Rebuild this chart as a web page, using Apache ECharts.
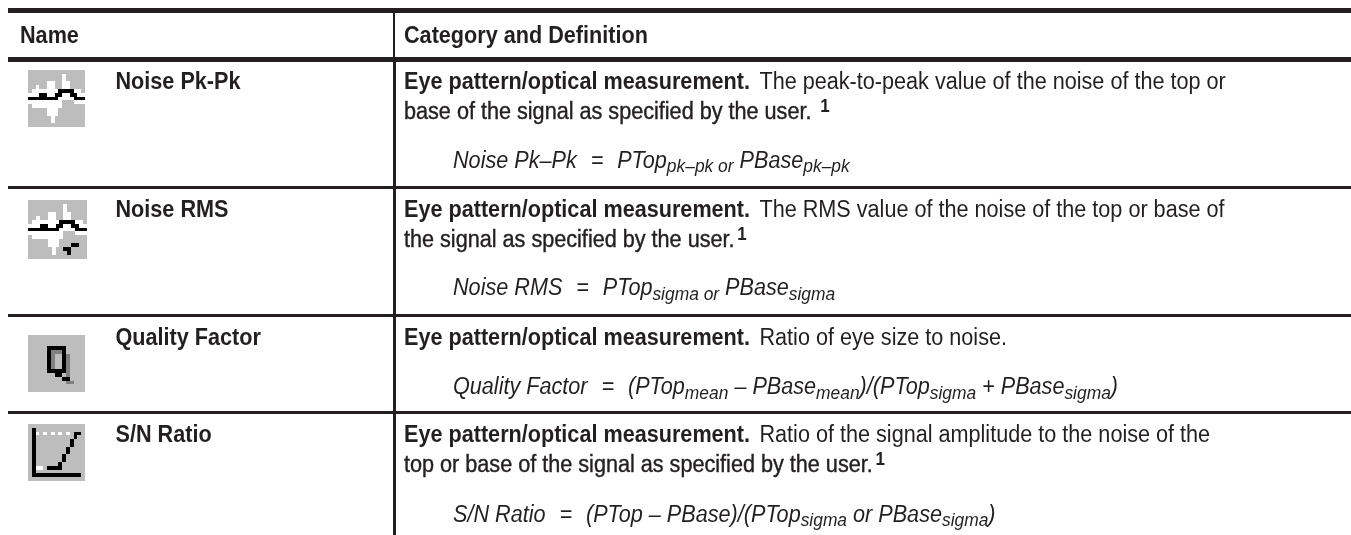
<!DOCTYPE html>
<html>
<head>
<meta charset="utf-8">
<title>Eye pattern measurements</title>
<script src="https://cdn.jsdelivr.net/npm/echarts@6/dist/echarts.min.js"></script>
<style>
  html, body { margin: 0; padding: 0; background: #fff; }
  #chart { width: 1351px; height: 535px; }
</style>
</head>
<body>
<div id="chart"></div>
<script>
// table content
const headers = ['Name', 'Category and Definition']
const measurementNames = ['Noise Pk-Pk', 'Noise RMS', 'Quality Factor', 'S/N Ratio']
const definitions = [
  '{b|Eye pattern/optical measurement.}The peak-to-peak value of the noise of the top or\n{m|base of the signal as specified by the user.} {sup|1}',
  '{b|Eye pattern/optical measurement.}The RMS value of the noise of the top or base of\n{m|the signal as specified by the user.}{sup|1}',
  '{b|Eye pattern/optical measurement.}Ratio of eye size to noise.',
  '{b|Eye pattern/optical measurement.}Ratio of the signal amplitude to the noise of the\n{m|top or base of the signal as specified by the user.}{sup|1}',
]
const formulas = [
  'Noise Pk\u2013Pk  {eq|=}  PTop{sub|pk\u2013pk or} PBase{sub|pk\u2013pk}',
  'Noise RMS  {eq|=}  PTop{sub|sigma or} PBase{sub|sigma}',
  'Quality Factor  {eq|=}  (PTop{sub|mean} \u2013 PBase{sub|mean})/(PTop{sub|sigma} + PBase{sub|sigma})',
  'S/N Ratio  {eq|=}  (PTop \u2013 PBase)/(PTop{sub|sigma} or PBase{sub|sigma})',
]
// toolbar icons, . grey  w white  k black  g dark grey
const iconBitmaps = [
  [
    '...............',
    '.........w.....',
    '.........w.....',
    '.....ww..ww....',
    '..w..ww..ww....',
    '.wwwwwwwkkkkww.',
    'wwwkkwwkkwwkkww',
    'kkkkkkkkwwwwkkk',
    'wwwwwwwww...www',
    '.wwwwwwww......',
    '.....www.......',
    '.....www.......',
    '......w........',
    '......w........',
    '...............',
  ],
  [
    '...............',
    '.........w.....',
    '.........w.....',
    '.....ww..ww....',
    '..w..ww..ww....',
    '.wwwwwwwkkkkww.',
    'wwwkkwwkkwwkkww',
    'kkkkkkkkwwwwkkk',
    'wwwwwwwww...www',
    '.wwwwwwww......',
    '.....www.......',
    '.....www...kk..',
    '......w..kk....',
    '......w...k....',
    '...............',
  ],
  [
    '...............',
    '...............',
    '...............',
    '.....kkkkk.....',
    '.....kgggk.....',
    '.....kg..kg....',
    '.....kg..kg....',
    '.....kg..kg....',
    '.....kg..kg....',
    '.....kkkkkg....',
    '.......kk.g....',
    '.........kk....',
    '..........gg...',
    '...............',
    '...............',
  ],
  [
    '...............',
    '.k.............',
    '.kw.w.w.w.w.kk.',
    '.k..........k..',
    '.k.........k...',
    '.k.........k...',
    '.k........k....',
    '.k........k....',
    '.k.......k.....',
    '.k.......k.....',
    '.k......k......',
    '.kww.kkkk......',
    '.k.............',
    '.kkkkkkkkkkkkk.',
    '...............',
  ],
]

// layout, page pixels
const W = 1351
const H = 535
const FONT = '"Liberation Sans", sans-serif'
const TEXT_SCALE_X = 0.94 // the scan's face is narrower than Liberation
const INK = '#231f20'
const iconColors = { '.': '#bdbdbd', w: '#ffffff', k: '#000000', g: '#808080' }
const iconBoxes = [
  { x: 28, y: 70, size: 57 },
  { x: 28, y: 200, size: 59 },
  { x: 28, y: 335, size: 57 },
  { x: 28, y: 424, size: 57 },
]
const rowTops = [68, 195.6, 324, 420.6]
const formulaTops = [146.6, 274, 373, 500.6]
const columnX = { headerName: 20, name: 115.5, definition: 404, formula: 453 }
const headerTop = 21.3
const rules = [
  [8, 8, W, 13],
  [8, 57, W, 62],
  [8, 186, W, 189],
  [8, 314, W, 317],
  [8, 411, W, 414],
  [393, 13, 395, 57],
  [393, 62, 396, H],
]

const textStyle = {
  fontFamily: FONT,
  fontSize: 23,
  fill: INK,
  lineHeight: 30,
}
const definitionRich = {
  b: { fontFamily: FONT, fontSize: 23, fontWeight: 'bold', fill: INK, lineHeight: 30, padding: [0, 10, 0, 0] },
  m: { fontFamily: FONT, fontSize: 23, fill: INK, stroke: INK, lineWidth: 0.4, lineHeight: 30 },
  sup: { fontFamily: FONT, fontSize: 18, fontWeight: 'bold', fill: INK, lineHeight: 18, verticalAlign: 'top', padding: [0, 0, 0, 3] },
}
const formulaRich = {
  eq: { fontFamily: FONT, fontSize: 23, fontStyle: 'italic', fill: INK, lineHeight: 30, padding: [0, 2, 0, 2] },
  sub: { fontFamily: FONT, fontSize: 18.5, fontStyle: 'italic', fill: INK, lineHeight: 16, verticalAlign: 'bottom' },
}

// text items for the custom series, built from the lists above
const textItems = []
headers.forEach((t, i) => {
  textItems.push({ value: [i === 0 ? columnX.headerName : columnX.definition, headerTop], text: t, fontWeight: 'bold' })
})
measurementNames.forEach((t, i) => {
  textItems.push({ value: [columnX.name, rowTops[i]], text: t, fontWeight: 'bold' })
})
definitions.forEach((t, i) => {
  textItems.push({ value: [columnX.definition, rowTops[i]], text: t, rich: definitionRich })
})
formulas.forEach((t, i) => {
  textItems.push({ value: [columnX.formula, formulaTops[i]], text: t, rich: formulaRich, fontStyle: 'italic' })
})

const iconCells = []
iconBitmaps.forEach((rows, i) => {
  const box = iconBoxes[i]
  const step = box.size / rows.length
  rows.forEach((row, r) => {
    row.split('').forEach((ch, c) => {
      iconCells.push([box.x + c * step, box.y + r * step, box.x + (c + 1) * step, box.y + (r + 1) * step, ch])
    })
  })
})

const chart = echarts.init(document.getElementById('chart'), null, { renderer: 'canvas' })

function renderBox(color) {
  return (params, api) => {
    const a = api.coord([api.value(0), api.value(1)])
    const b = api.coord([api.value(2), api.value(3)])
    const x = Math.round(a[0])
    const y = Math.round(a[1])
    return {
      type: 'rect',
      shape: { x, y, width: Math.round(b[0]) - x, height: Math.round(b[1]) - y },
      style: { fill: color || iconColors[api.value(4)] },
    }
  }
}

chart.setOption({
  animation: false,
  backgroundColor: '#fff',
  grid: { left: 0, right: 0, top: 0, bottom: 0 },
  xAxis: { type: 'value', min: 0, max: W, show: false },
  yAxis: { type: 'value', min: 0, max: H, inverse: true, show: false },
  series: [
    {
      type: 'custom',
      name: 'rules',
      silent: true,
      clip: false,
      data: rules,
      renderItem: renderBox(INK),
    },
    {
      type: 'custom',
      name: 'icons',
      silent: true,
      clip: false,
      encode: { x: [0, 2], y: [1, 3] },
      dimensions: ['x0', 'y0', 'x1', 'y1', { name: 'c', type: 'ordinal' }],
      data: iconCells,
      renderItem: renderBox(),
    },
    {
      type: 'custom',
      name: 'cells',
      silent: true,
      clip: false,
      data: textItems,
      renderItem: (params, api) => {
        const item = textItems[params.dataIndex]
        const p = api.coord(item.value)
        return {
          type: 'text',
          x: p[0],
          y: p[1],
          scaleX: TEXT_SCALE_X,
          style: {
            ...textStyle,
            text: item.text,
            rich: item.rich,
            fontWeight: item.fontWeight || 'normal',
            fontStyle: item.fontStyle || 'normal',
            align: 'left',
            verticalAlign: 'top',
          },
        }
      },
    },
  ],
})
</script>
</body>
</html>
